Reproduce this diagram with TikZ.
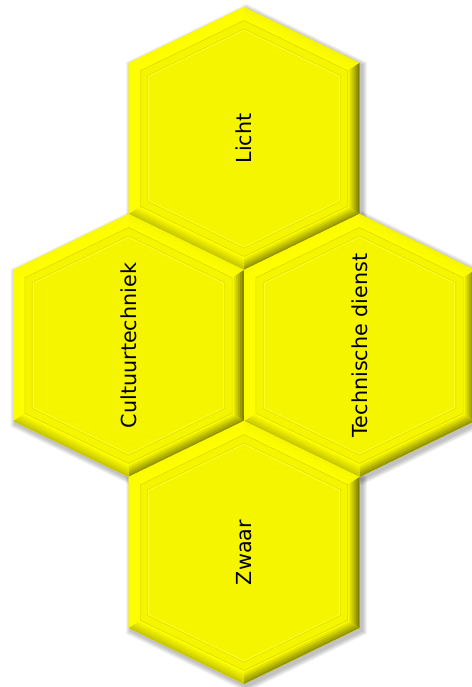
\documentclass[tikz,border=0pt]{standalone}
\usepackage{fontspec}
\setmainfont{DejaVu Sans}
\definecolor{face}{RGB}{245,245,0}
\definecolor{bevOa}{RGB}{246,246,0}\definecolor{bevIa}{RGB}{255,255,0}
\definecolor{bevOb}{RGB}{130,130,0}\definecolor{bevIb}{RGB}{248,248,0}
\definecolor{bevOc}{RGB}{150,150,0}\definecolor{bevIc}{RGB}{250,250,0}
\definecolor{bevOd}{RGB}{200,200,0}\definecolor{bevId}{RGB}{255,255,0}
\definecolor{bevOe}{RGB}{252,252,0}\definecolor{bevIe}{RGB}{255,255,0}
\definecolor{bevOf}{RGB}{252,252,0}\definecolor{bevIf}{RGB}{255,255,0}
\definecolor{lineA}{RGB}{215,215,0}
\definecolor{lineB}{RGB}{228,228,0}
\definecolor{lineC}{RGB}{255,255,60}
\def\W{115.5}
\def\H{131.5}
\def\V{75.5}
\newcommand\hxm[1]{\ifcase#1 0\or 1\or 1\or 0\or -1\or -1\or 0\fi}
\newcommand\hym[1]{\ifcase#1 -1\or -0.5741\or 0.5741\or 1\or 0.5741\or -0.5741\or -1\fi}
\newcommand\hexp[4]{%
  \path[#4] ({#1},{#2-\H*(#3)}) -- ({#1+\W*(#3)},{#2-\V*(#3)}) --
    ({#1+\W*(#3)},{#2+\V*(#3)}) -- ({#1},{#2+\H*(#3)}) --
    ({#1-\W*(#3)},{#2+\V*(#3)}) -- ({#1-\W*(#3)},{#2-\V*(#3)}) -- cycle;}
\newcommand\hexshadow[2]{%
  \foreach \d in {1,...,5}{\hexp{#1+2.5}{#2+2.5}{1+\d/117}{fill=black,fill opacity=0.05}}}
\newcommand\hexcell[2]{%
  \hexp{#1}{#2}{1}{fill=face}%
  \foreach \k/\sd in {0/a,1/b,2/c,3/d,4/e,5/f}{%
    \pgfmathtruncatemacro\kk{\k+1}%
    \foreach \j in {0,...,5}{%
      \pgfmathsetmacro\so{1-\j*2/117}%
      \pgfmathsetmacro\si{1-(\j*2+2.4)/117}%
      \pgfmathtruncatemacro\pct{\j*20}%
      \fill[bevI\sd!\pct!bevO\sd]
        ({#1+\W*\so*(\hxm{\k})},{#2+\H*\so*(\hym{\k})}) --
        ({#1+\W*\so*(\hxm{\kk})},{#2+\H*\so*(\hym{\kk})}) --
        ({#1+\W*\si*(\hxm{\kk})},{#2+\H*\si*(\hym{\kk})}) --
        ({#1+\W*\si*(\hxm{\k})},{#2+\H*\si*(\hym{\k})}) -- cycle;
    }}%
  \hexp{#1}{#2}{1-12/117}{draw=lineA,line width=0.6pt}%
  \hexp{#1}{#2}{1-19.5/117}{draw=lineB,line width=0.7pt}%
  \hexp{#1}{#2}{1-20.5/117}{draw=lineC,line width=0.6pt}%
}
\tikzset{lbl/.style={rotate=90,inner sep=0pt,text=black,font=\fontsize{20.7}{24}\selectfont}}
\begin{document}
\begin{tikzpicture}[x=1pt,y=-1pt]
\useasboundingbox (0,0) rectangle (471,687);
\fill[white] (0,0) rectangle (471,687);
% shadows
\hexshadow{244}{138.5}
\hexshadow{128.5}{345.5}
\hexshadow{359.5}{345.5}
\hexshadow{244}{552.5}
% cells
\hexcell{244}{138.5}
\hexcell{128.5}{345.5}
\hexcell{359.5}{345.5}
\hexcell{244}{552.5}
% labels
\node[lbl] (licht) at (244,138.5) {Licht};
\node[lbl] (cultuur) at (128.5,345.5) {Cultuurtechniek};
\node[lbl] (techniek) at (359.5,345.5) {Technische dienst};
\node[lbl] (zwaar) at (244,552.5) {Zwaar};
\end{tikzpicture}
\end{document}
